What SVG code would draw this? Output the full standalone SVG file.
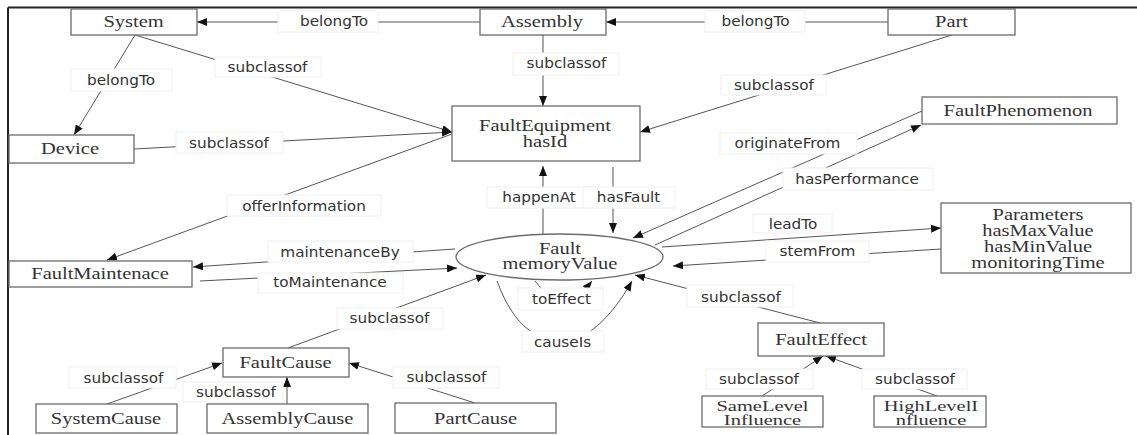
<svg xmlns="http://www.w3.org/2000/svg" width="1137" height="435" viewBox="0 0 1137 435">
<style>
.frame{stroke:#222;stroke-width:2;fill:none}
.node rect,.node ellipse{fill:#fff;stroke:#6b6b6b;stroke-width:1.3}
.nt{font-family:"Liberation Serif","Times New Roman",serif;font-size:16px;fill:#333;text-anchor:middle}
.nt2{font-size:15px}
.edge{stroke:#555;stroke-width:1;fill:none;marker-end:url(#ah)}
.lb{fill:#fff;stroke:#f0f0f0;stroke-width:1}
.lt{font-family:"DejaVu Sans","Liberation Sans",sans-serif;font-size:13.5px;fill:#333;text-anchor:middle}
</style>
<defs>
<marker id="ah" markerUnits="userSpaceOnUse" markerWidth="10" markerHeight="8" refX="10" refY="4" orient="auto">
<path d="M0,0 L10,4 L0,8 z" fill="#111"/>
</marker>
</defs>
<rect width="1137" height="435" fill="#fff"/>
<path class="frame" d="M8,7.5 H1137 M8,7.5 V435"/>
<g id="connectors">
<path class="edge" d="M480,22 L197,22"/>
<path class="edge" d="M888,22 L606,22"/>
<path class="edge" d="M135,35 L74,135"/>
<path class="edge" d="M135,35 L452,132"/>
<path class="edge" d="M134,149 L452,132"/>
<path class="edge" d="M543,35 L543,106"/>
<path class="edge" d="M952,35 L640,132"/>
<path class="edge" d="M452,134 L107,260"/>
<path class="edge" d="M543,234 L543,166"/>
<path class="edge" d="M613,167 L613,233"/>
<path class="edge" d="M922,111 L633,238"/>
<path class="edge" d="M655,245 L921,125"/>
<path class="edge" d="M662,247 L941,228"/>
<path class="edge" d="M941,249 L673,266"/>
<path class="edge" d="M455,249 L193,267"/>
<path class="edge" d="M200,281 L457,268"/>
<path class="edge" d="M288,348 L486,275"/>
<path class="edge" d="M535,281 Q562,318 592,281"/>
<path class="edge" d="M497,281 C515,330 540,341 562,341 C585,341 610,320 632,281"/>
<path class="edge" d="M820,323 L635,275"/>
<path class="edge" d="M107,404 L222,363"/>
<path class="edge" d="M287,404 L287,377"/>
<path class="edge" d="M475,403 L349,363"/>
<path class="edge" d="M762,396 L823,356"/>
<path class="edge" d="M937,396 L826,356"/>
<g id="labels">
<rect class="lb" x="278" y="11" width="100" height="21"/><text class="lt" transform="translate(334 25.5) scale(1.13 1)">belongTo</text>
<rect class="lb" x="705" y="11" width="100" height="21"/><text class="lt" transform="translate(755.5 25.5) scale(1.13 1)">belongTo</text>
<rect class="lb" x="71" y="69" width="101" height="22"/><text class="lt" transform="translate(121 84.5) scale(1.13 1)">belongTo</text>
<rect class="lb" x="215" y="57" width="106" height="20"/><text class="lt" transform="translate(267.5 71.5) scale(1.13 1)">subclassof</text>
<rect class="lb" x="176" y="132" width="107" height="21"/><text class="lt" transform="translate(229 147.5) scale(1.13 1)">subclassof</text>
<rect class="lb" x="513" y="53" width="106" height="22"/><text class="lt" transform="translate(566.5 67.5) scale(1.13 1)">subclassof</text>
<rect class="lb" x="721" y="75" width="105" height="20"/><text class="lt" transform="translate(774 89.5) scale(1.13 1)">subclassof</text>
<rect class="lb" x="227" y="195" width="154" height="21"/><text class="lt" transform="translate(304 210.5) scale(1.13 1)">offerInformation</text>
<rect class="lb" x="487" y="187" width="105" height="21"/><text class="lt" transform="translate(539 201.5) scale(1.13 1)">happenAt</text>
<rect class="lb" x="583" y="187" width="92" height="21"/><text class="lt" transform="translate(628.5 201.5) scale(1.13 1)">hasFault</text>
<rect class="lb" x="720" y="133" width="137" height="21"/><text class="lt" transform="translate(787.5 147.5) scale(1.13 1)">originateFrom</text>
<rect class="lb" x="783" y="168" width="150" height="22"/><text class="lt" transform="translate(857 183.5) scale(1.13 1)">hasPerformance</text>
<rect class="lb" x="753" y="214" width="79" height="19"/><text class="lt" transform="translate(793 229) scale(1.13 1)">leadTo</text>
<rect class="lb" x="766" y="241" width="103" height="21"/><text class="lt" transform="translate(817.5 255.5) scale(1.13 1)">stemFrom</text>
<rect class="lb" x="268" y="241" width="145" height="21"/><text class="lt" transform="translate(340 256.5) scale(1.13 1)">maintenanceBy</text>
<rect class="lb" x="258" y="273" width="145" height="20"/><text class="lt" transform="translate(330 286.5) scale(1.13 1)">toMaintenance</text>
<rect class="lb" x="337" y="308" width="106" height="21"/><text class="lt" transform="translate(389.5 322.5) scale(1.13 1)">subclassof</text>
<rect class="lb" x="518" y="288" width="85" height="22"/><text class="lt" transform="translate(561.5 303.5) scale(1.13 1)">toEffect</text>
<rect class="lb" x="522" y="331" width="82" height="21"/><text class="lt" transform="translate(562.5 346.5) scale(1.13 1)">causeIs</text>
<rect class="lb" x="687" y="285" width="106" height="22"/><text class="lt" transform="translate(741 301.5) scale(1.13 1)">subclassof</text>
<rect class="lb" x="69" y="367" width="107" height="21"/><text class="lt" transform="translate(123.5 382.5) scale(1.13 1)">subclassof</text>
<rect class="lb" x="183" y="382" width="100" height="20"/><text class="lt" transform="translate(236 397) scale(1.13 1)">subclassof</text>
<rect class="lb" x="393" y="367" width="106" height="21"/><text class="lt" transform="translate(446.5 381.5) scale(1.13 1)">subclassof</text>
<rect class="lb" x="706" y="369" width="107" height="20"/><text class="lt" transform="translate(759 383.5) scale(1.13 1)">subclassof</text>
<rect class="lb" x="862" y="369" width="105" height="20"/><text class="lt" transform="translate(915 383.5) scale(1.13 1)">subclassof</text>
</g>
</g>
<g id="System" class="node"><rect x="71" y="9" width="126" height="26"/><text class="nt" transform="translate(133.5 27.3) scale(1.28 1)">System</text></g>
<g id="Assembly" class="node"><rect x="480" y="9" width="126" height="26"/><text class="nt" transform="translate(542 27.3) scale(1.28 1)">Assembly</text></g>
<g id="Part" class="node"><rect x="888" y="9" width="127" height="26"/><text class="nt" transform="translate(951.5 27.3) scale(1.28 1)">Part</text></g>
<g id="Device" class="node"><rect x="9" y="135" width="125" height="28"/><text class="nt" transform="translate(70 153.5) scale(1.28 1)">Device</text></g>
<g id="FaultEquipment" class="node"><rect x="452" y="106" width="188" height="55"/><text class="nt" transform="translate(545 131) scale(1.28 1)"><tspan x="0" y="0">FaultEquipment</tspan><tspan x="0" y="15.8">hasId</tspan></text></g>
<g id="FaultPhenomenon" class="node"><rect x="922" y="97" width="195" height="27"/><text class="nt" transform="translate(1018 115.7) scale(1.28 1)">FaultPhenomenon</text></g>
<g id="Parameters" class="node"><rect x="941" y="203" width="190" height="70"/><text class="nt" transform="translate(1038 220) scale(1.28 1)"><tspan x="0" y="0">Parameters</tspan><tspan x="0" y="16">hasMaxValue</tspan><tspan x="0" y="32">hasMinValue</tspan><tspan x="0" y="47.7">monitoringTime</tspan></text></g>
<g id="FaultMaintenace" class="node"><rect x="9" y="261" width="183" height="26"/><text class="nt" transform="translate(100 279) scale(1.28 1)">FaultMaintenace</text></g>
<g id="Fault" class="node"><ellipse cx="559.5" cy="257" rx="103.5" ry="23"/><text class="nt" transform="translate(560 253.5) scale(1.28 1)"><tspan x="0" y="0">Fault</tspan><tspan x="0" y="15.8">memoryValue</tspan></text></g>
<g id="FaultCause" class="node"><rect x="223" y="348" width="126" height="29"/><text class="nt" transform="translate(285.5 367.7) scale(1.28 1)">FaultCause</text></g>
<g id="SystemCause" class="node"><rect x="36" y="404" width="141" height="29"/><text class="nt" transform="translate(106 424) scale(1.28 1)">SystemCause</text></g>
<g id="AssemblyCause" class="node"><rect x="207" y="404" width="161" height="29"/><text class="nt" transform="translate(287.5 424) scale(1.28 1)">AssemblyCause</text></g>
<g id="PartCause" class="node"><rect x="395" y="403" width="161" height="30"/><text class="nt" transform="translate(475.5 423.5) scale(1.28 1)">PartCause</text></g>
<g id="FaultEffect" class="node"><rect x="758" y="323" width="126" height="33"/><text class="nt" transform="translate(821 345) scale(1.28 1)">FaultEffect</text></g>
<g id="SameLevelInfluence" class="node"><rect x="702" y="396" width="121" height="31"/><text class="nt nt2" transform="translate(762.5 410.5) scale(1.365 1)"><tspan x="0" y="0">SameLevel</tspan><tspan x="0" y="15">Influence</tspan></text></g>
<g id="HighLevelInfluence" class="node"><rect x="874" y="396" width="112" height="31"/><text class="nt nt2" transform="translate(931 410.5) scale(1.365 1)"><tspan x="0" y="0">HighLevelI</tspan><tspan x="0" y="15">nfluence</tspan></text></g>
</svg>
